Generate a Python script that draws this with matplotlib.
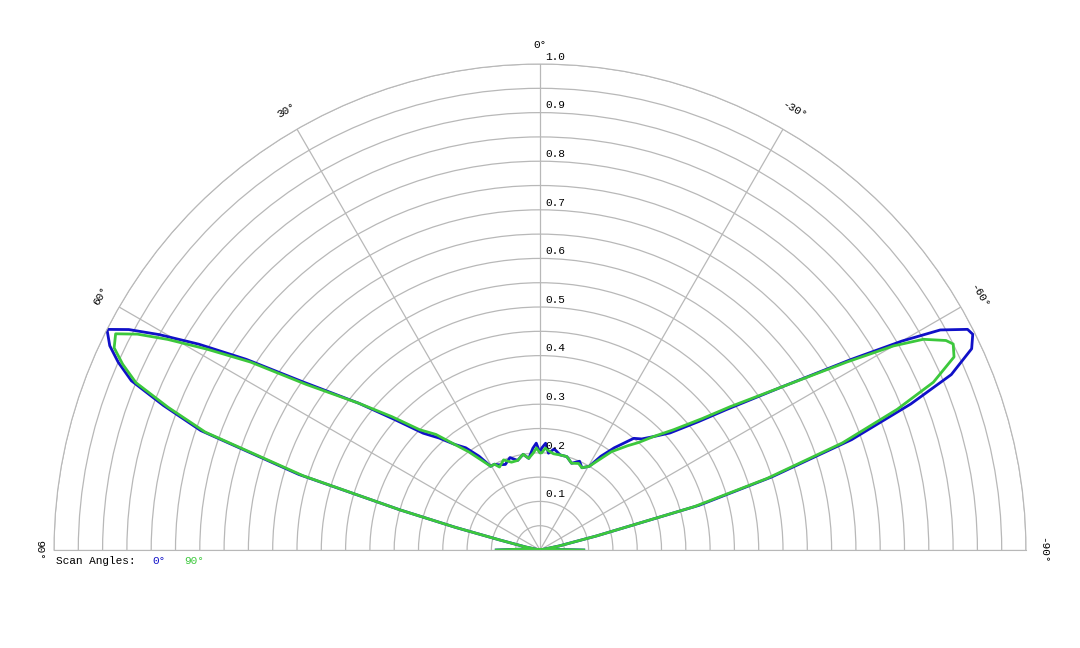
import numpy as np
import matplotlib
matplotlib.use('Agg')
import matplotlib.pyplot as plt

# angles in degrees (0 = straight down the beam, + to the left), relative intensity
ang_0 = [-90, -86, -82, -78, -76, -74.3, -72.5, -70.5, -68.5, -66.9, -65, -63.5, -62.7, -61.2, -60, -58.5,
         -56, -53, -51, -48, -45, -42.5, -40, -36, -33, -30.5, -27, -24, -20, -16, -12, -8, -5, -3, -1,
         0, 2, 4, 7, 10, 14, 18, 22, 26, 28, 30.5, 33, 36, 39, 42, 45, 48, 51, 54.7, 57, 58.9, 60.5,
         61.8, 63, 64.6, 66, 67.5, 69, 70.6, 72.6, 74, 75, 76, 78, 82, 86, 90]
r_0 = [0.09, 0.02, 0.0, 0.04, 0.12, 0.34, 0.50, 0.68, 0.82, 0.92, 0.98, 0.995, 0.99, 0.94, 0.86, 0.75,
       0.60, 0.48, 0.42, 0.36, 0.33, 0.31, 0.30, 0.26, 0.23, 0.20, 0.19, 0.20, 0.19, 0.20, 0.20, 0.21, 0.20,
       0.22, 0.21, 0.20, 0.22, 0.21, 0.19, 0.20, 0.19, 0.20, 0.19, 0.195, 0.20, 0.20, 0.23, 0.26, 0.28, 0.31,
       0.34, 0.40, 0.48, 0.60, 0.72, 0.82, 0.90, 0.96, 1.0, 0.98, 0.95, 0.91, 0.83, 0.74, 0.52, 0.30, 0.18,
       0.085, 0.03, 0.0, 0.03, 0.09]
ang_90 = [-90, -86, -82, -78, -76, -74.3, -72.5, -70.5, -68.5, -66.9, -65, -63.5, -62.7, -61.2, -60, -58.5,
          -56, -53, -51, -48, -45, -42.5, -40, -36, -33, -30.5, -27, -24, -20, -16, -12, -8, -5, -3, -1,
          0, 2, 4, 7, 10, 14, 18, 22, 26, 28, 30.5, 33, 36, 39, 42, 45, 48, 51, 54.7, 57, 58.9, 60.5,
          61.8, 63, 64.6, 66, 67.5, 69, 70.6, 72.6, 74, 75, 76, 78, 82, 86, 90]
r_90 = [0.09, 0.02, 0.0, 0.04, 0.12, 0.33, 0.49, 0.66, 0.79, 0.88, 0.94, 0.95, 0.94, 0.90, 0.84, 0.74,
        0.60, 0.49, 0.43, 0.37, 0.33, 0.30, 0.28, 0.25, 0.22, 0.20, 0.19, 0.195, 0.19, 0.20, 0.20, 0.20, 0.205,
        0.21, 0.20, 0.20, 0.21, 0.20, 0.19, 0.20, 0.19, 0.19, 0.20, 0.19, 0.20, 0.20, 0.22, 0.25, 0.28, 0.32,
        0.35, 0.41, 0.48, 0.59, 0.71, 0.80, 0.88, 0.94, 0.98, 0.97, 0.94, 0.90, 0.82, 0.73, 0.51, 0.30, 0.18,
        0.085, 0.03, 0.0, 0.03, 0.09]

mono = 'Liberation Mono'
fig = plt.figure(figsize=(10.8, 6.48), dpi=100)
# polar wedge is centred at half size in the box, so the box is made twice as big
ax = fig.add_axes([-0.4, -0.2238, 1.8, 1.5], projection='polar')
ax.set_theta_zero_location('N')
ax.set_thetamin(-90)
ax.set_thetamax(90)
ax.set_ylim(0, 1.0)
ax.set_rticks(np.arange(0.05, 1.0001, 0.05))
ax.set_thetagrids([-90, -60, -30, 0, 30, 60, 90])
ax.set_xticklabels([])
ax.set_yticklabels([])
ax.grid(color='#b8b8b8', linewidth=0.9)
ax.spines['polar'].set_color('#b8b8b8')
ax.spines['start'].set_color('#b8b8b8')
ax.spines['end'].set_color('#b8b8b8')
ax.spines['inner'].set_visible(False)

ax.plot(np.radians(ang_0), r_0, color='#1010c8', lw=2)
ax.plot(np.radians(ang_90), r_90, color='#3cc83c', lw=2)

off = matplotlib.transforms.ScaledTranslation(0.05, 0, fig.dpi_scale_trans)
for v in np.arange(0.1, 1.0001, 0.1):
    ax.text(0, v + 0.015, '%.1f' % v, family=mono, fontsize=8, ha='left', va='center',
            transform=ax.transData + off)
for a in [30, 60, -30, -60]:
    ax.text(np.radians(a), 1.045, '%d°' % a, family=mono, fontsize=8, ha='center', va='center', rotation=a)
ax.text(0, 1.04, '0°', family=mono, fontsize=8, ha='center', va='center')
ax.text(np.radians(90), 1.03, '90°', family=mono, fontsize=8, ha='center', va='center', rotation=-90)
ax.text(np.radians(-90), 1.035, '-90°', family=mono, fontsize=8, ha='center', va='center', rotation=-90)

fig.text(0.052, 0.135, 'Scan Angles:', family=mono, fontsize=8, va='center')
fig.text(0.141, 0.135, '0°', family=mono, fontsize=8, va='center', color='#1010c8')
fig.text(0.171, 0.135, '90°', family=mono, fontsize=8, va='center', color='#3cc83c')

fig.savefig('out.png', dpi=100)
